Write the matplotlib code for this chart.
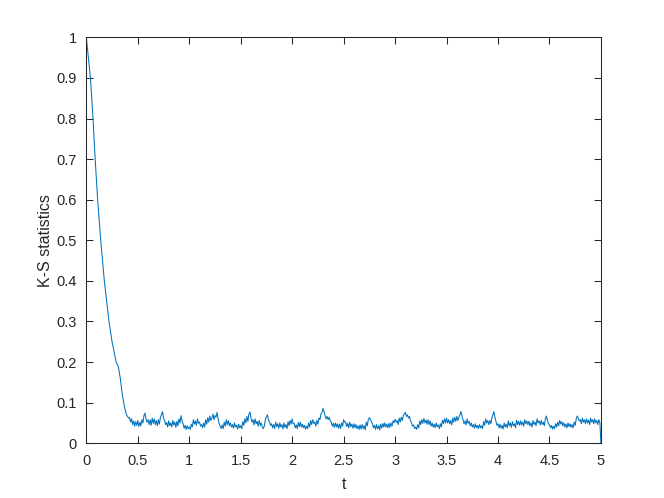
import numpy as np
import matplotlib
matplotlib.use("Agg")
import matplotlib.pyplot as plt

# ------------------------------------------------------------
# data
# ------------------------------------------------------------

# fast decay at the start
t_decay = [0.0, 0.02, 0.04, 0.065, 0.086, 0.11, 0.14, 0.175, 0.22, 0.25,
           0.27, 0.29, 0.31, 0.33, 0.35, 0.37, 0.39, 0.41]
ks_decay = [1.0, 0.95, 0.90, 0.80, 0.70, 0.60, 0.50, 0.40, 0.30, 0.25,
            0.225, 0.20, 0.19, 0.16, 0.12, 0.09, 0.07, 0.062]

# noisy plateau, one value every 0.01 from t = 0.42 to t = 5.00
T_START, T_STEP = 0.42, 0.01
ks_plateau = [
    .064, .052, .060, .046, .055, .042, .053, .044, .056, .041,   # 0.42
    .052, .043, .058, .050, .068, .074, .060, .052, .058, .046,   # 0.52
    .058, .044, .062, .049, .060, .046, .056, .043, .058, .047,   # 0.62
    .064, .070, .078, .062, .057, .046, .051, .040, .055, .043,   # 0.72
    .050, .040, .056, .045, .052, .039, .054, .043, .060, .050,   # 0.82
    .068, .055, .048, .037, .044, .034, .043, .036, .040, .034,   # 0.92
    .047, .040, .058, .047, .055, .044, .060, .049, .052, .042,   # 1.02
    .046, .038, .050, .040, .058, .047, .063, .052, .067, .056,   # 1.12
    .062, .072, .058, .068, .064, .076, .060, .049, .042, .036,   # 1.22
    .045, .036, .052, .042, .058, .046, .056, .043, .050, .040,   # 1.32
    .046, .037, .050, .040, .044, .035, .047, .038, .043, .036,   # 1.42
    .053, .044, .060, .050, .066, .054, .072, .077, .062, .052,   # 1.52
    .058, .045, .060, .048, .054, .042, .056, .044, .050, .039,   # 1.62
    .036, .043, .058, .066, .070, .057, .052, .044, .048, .038,   # 1.72
    .046, .036, .052, .041, .048, .037, .050, .040, .046, .035,   # 1.82
    .050, .039, .046, .036, .053, .043, .056, .047, .060, .048,   # 1.92
    .049, .038, .045, .036, .051, .041, .052, .040, .047, .038,   # 2.02
    .044, .035, .042, .036, .050, .040, .056, .046, .058, .049,   # 2.12
    .052, .042, .056, .047, .062, .058, .072, .076, .086, .078,   # 2.22
    .068, .060, .066, .058, .064, .056, .052, .042, .049, .039,   # 2.32
    .050, .040, .048, .037, .047, .036, .050, .042, .058, .052,   # 2.42
    .052, .041, .049, .038, .052, .041, .047, .037, .048, .038,   # 2.52
    .046, .036, .043, .034, .045, .035, .046, .036, .043, .033,   # 2.62
    .052, .043, .058, .063, .060, .052, .048, .038, .044, .034,   # 2.72
    .046, .036, .043, .033, .047, .037, .049, .040, .050, .040,   # 2.82
    .047, .038, .049, .039, .050, .042, .055, .050, .059, .052,   # 2.92
    .056, .046, .062, .052, .064, .056, .068, .072, .076, .066,   # 3.02
    .070, .062, .066, .055, .050, .042, .045, .036, .040, .034,   # 3.12
    .046, .038, .055, .046, .058, .049, .061, .050, .057, .047,   # 3.22
    .058, .046, .055, .042, .050, .040, .047, .038, .050, .041,   # 3.32
    .045, .036, .048, .040, .057, .048, .060, .050, .062, .050,   # 3.42
    .058, .048, .056, .045, .062, .052, .064, .054, .066, .056,   # 3.52
    .064, .070, .078, .068, .058, .048, .055, .045, .060, .049,   # 3.62
    .054, .043, .050, .040, .046, .037, .048, .038, .044, .036,   # 3.72
    .046, .038, .043, .036, .053, .044, .060, .050, .056, .046,   # 3.82
    .056, .048, .062, .070, .078, .064, .054, .044, .048, .038,   # 3.92
    .047, .037, .044, .035, .050, .040, .047, .038, .055, .043,   # 4.02
    .050, .039, .053, .043, .048, .038, .057, .046, .054, .044,   # 4.12
    .055, .045, .052, .042, .058, .048, .055, .046, .054, .043,   # 4.22
    .050, .040, .056, .046, .052, .043, .060, .050, .055, .045,   # 4.32
    .056, .046, .052, .043, .060, .067, .058, .048, .046, .038,   # 4.42
    .044, .035, .042, .036, .048, .040, .052, .043, .056, .047,   # 4.52
    .053, .043, .050, .040, .047, .038, .050, .041, .048, .039,   # 4.62
    .046, .038, .052, .044, .060, .067, .062, .055, .058, .048,   # 4.72
    .062, .052, .058, .048, .060, .050, .057, .046, .062, .052,   # 4.82
    .058, .048, .060, .050, .056, .046, .058, .050, 0.0,          # 4.92
]

x_ticks = [0, 0.5, 1, 1.5, 2, 2.5, 3, 3.5, 4, 4.5, 5]
x_tick_labels = ["0", "0.5", "1", "1.5", "2", "2.5", "3", "3.5", "4", "4.5", "5"]
y_ticks = [0, 0.1, 0.2, 0.3, 0.4, 0.5, 0.6, 0.7, 0.8, 0.9, 1]
y_tick_labels = ["0", "0.1", "0.2", "0.3", "0.4", "0.5", "0.6", "0.7", "0.8", "0.9", "1"]

t_plateau = T_START + T_STEP * np.arange(len(ks_plateau))
t = np.concatenate([t_decay, t_plateau])
ks = np.concatenate([ks_decay, ks_plateau])

# ------------------------------------------------------------
# style (matlab-ish defaults)
# ------------------------------------------------------------

ink = "#262626"
line_blue = "#0072BD"

plt.rcParams.update({
    "font.family": ["Liberation Sans", "DejaVu Sans"],
    "font.size": 10.5,
    "axes.linewidth": 0.75,
    "axes.edgecolor": ink,
})

fig = plt.figure(figsize=(6.64, 4.98), dpi=100)
fig.patch.set_facecolor("white")
ax = fig.add_axes([0.13, 0.11, 0.775, 0.815])

ax.plot(t, ks, color=line_blue, linewidth=0.75)

ax.set_xlim(0, 5)
ax.set_ylim(0, 1)
ax.set_xticks(x_ticks)
ax.set_xticklabels(x_tick_labels)
ax.set_yticks(y_ticks)
ax.set_yticklabels(y_tick_labels)
ax.tick_params(direction="in", length=5, width=0.75, color=ink,
               labelcolor=ink, top=True, right=True)
ax.tick_params(axis="x", pad=8)
ax.tick_params(axis="y", pad=7)

ax.set_xlabel("t", fontsize=11.5, color=ink, labelpad=6)
ax.set_ylabel("K-S statistics", fontsize=11.5, color=ink, labelpad=2)

fig.savefig("out.png", dpi=100)
